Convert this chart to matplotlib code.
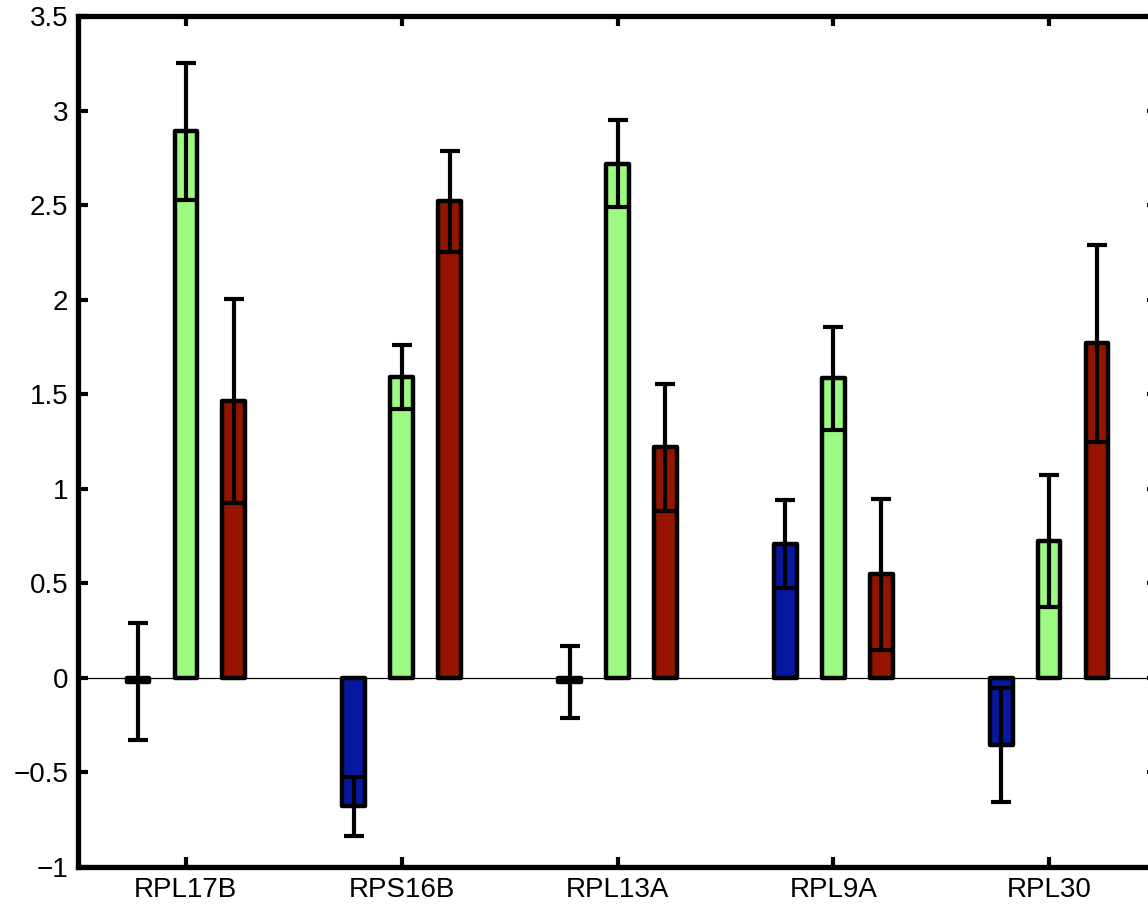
import numpy as np
import matplotlib as mpl
mpl.use('Agg')
import matplotlib.pyplot as plt

plt.rcParams['font.family'] = ['Liberation Sans', 'DejaVu Sans']

# data
genes = ["RPL17B", "RPS16B", "RPL13A", "RPL9A", "RPL30"]
blue_vals = [-0.02, -0.68, -0.02, 0.71, -0.355]
blue_err = [0.31, 0.155, 0.19, 0.233, 0.30]
green_vals = [2.89, 1.59, 2.72, 1.585, 0.725]
green_err = [0.36, 0.17, 0.23, 0.273, 0.35]
red_vals = [1.466, 2.52, 1.22, 0.548, 1.77]
red_err = [0.54, 0.268, 0.336, 0.40, 0.52]

colors = ['#0718a0', '#9cfa80', '#941400']
series = [(blue_vals, blue_err), (green_vals, green_err), (red_vals, red_err)]
offsets = [-0.222, 0.0, 0.222]
width = 0.105

fig = plt.figure(figsize=(11.48, 9.10), dpi=100)
ax = fig.add_axes([0.0679, 0.0473, 0.940, 0.935])

x = np.arange(1, len(genes) + 1)
ax.axhline(0, color='black', linewidth=0.9, zorder=1)
for (vals, errs), off, col in zip(series, offsets, colors):
    ax.bar(x + off, vals, width=width, color=col, edgecolor='black',
           linewidth=3.2, zorder=2, joinstyle='round')
    ax.errorbar(x + off, vals, yerr=errs, fmt='none', ecolor='black',
                elinewidth=3.0, capsize=7.2, capthick=3.0, zorder=3)

ax.set_xlim(0.5, 5.5)
ax.set_ylim(-1, 3.5)
ax.set_xticks(x)
ax.set_xticklabels(genes)
ax.set_yticks(np.arange(-1, 3.51, 0.5))
ax.set_yticklabels(['\u22121', '\u22120.5', '0', '0.5', '1', '1.5', '2', '2.5', '3', '3.5'])
ax.tick_params(direction='in', length=7, width=3.0, labelsize=20,
               top=True, right=True, pad=7)
for sp in ax.spines.values():
    sp.set_linewidth(3.8)

plt.savefig('out.png', dpi=100)
